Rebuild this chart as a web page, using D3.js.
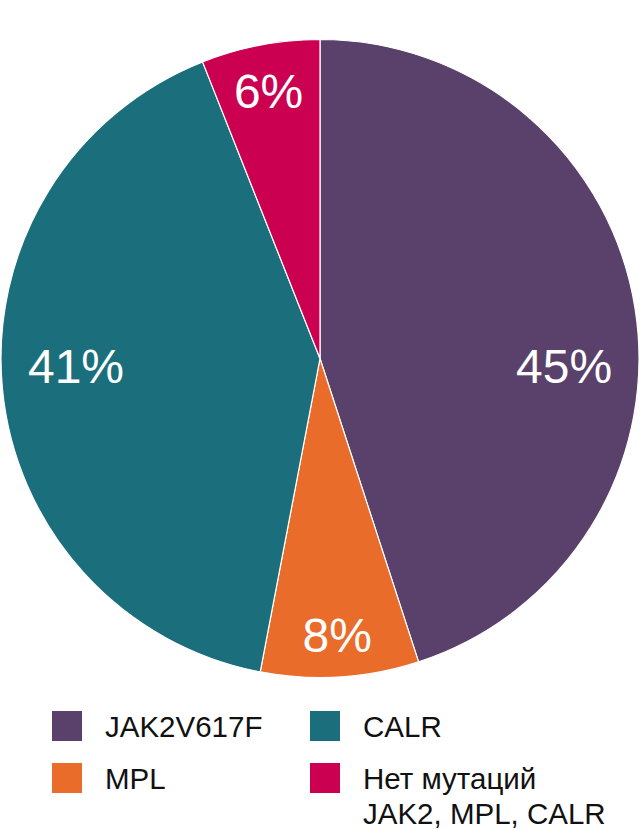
<!DOCTYPE html>
<html><head><meta charset="utf-8">
<script src="https://cdn.jsdelivr.net/npm/d3@7"></script>
<style>body{margin:0;background:#fff}svg{display:block}</style>
</head><body>
<script>
const categories = ["JAK2V617F", "MPL", "CALR", "Нет мутаций JAK2, MPL, CALR"];
const values = [45, 8, 41, 6];
const valueLabels = ["45%", "8%", "41%", "6%"];
const colors = ["#5A416B", "#E96C2B", "#1B6F7C", "#CC0050"];
const legendOrder = [0, 2, 1, 3];
const legendLines = [["JAK2V617F"], ["MPL"], ["CALR"], ["Нет мутаций", "JAK2, MPL, CALR"]];

const W = 640, H = 830;
const cx = 320, cy = 358.5, R = 319;
const svg = d3.select("body").append("svg").attr("width", W).attr("height", H);
const font = "'Liberation Sans', Arial, sans-serif";

const pie = d3.pie().value(d => d).sort(null);
const arcs = pie(values);
const arc = d3.arc().innerRadius(0).outerRadius(R);

const g = svg.append("g").attr("transform", `translate(${cx},${cy})`);
g.selectAll("path").data(arcs).enter().append("path")
  .attr("d", arc).attr("fill", (d, i) => colors[i])
  .attr("stroke", "#fff").attr("stroke-width", 1.2);

// label placement: large slices spanning a horizontal direction put label near horizontal
function labelPos(d) {
  const span = d.endAngle - d.startAngle;
  let a = (d.startAngle + d.endAngle) / 2;
  let r = R * 0.86;
  if (span > Math.PI * 0.5) {
    const cands = [Math.PI / 2, 3 * Math.PI / 2].filter(h => h > d.startAngle && h < d.endAngle);
    if (cands.length) { a = cands[0]; r = R * 0.765; }
  }
  return [r * Math.sin(a), -r * Math.cos(a), span > Math.PI * 0.5];
}
g.selectAll("text.lbl").data(arcs).enter().append("text")
  .attr("class", "lbl")
  .each(function(d, i) {
    const [x, y, big] = labelPos(d);
    d3.select(this).attr("x", x).attr("y", y + (big ? 7 : 2));
  })
  .attr("dy", "0.36em")
  .attr("text-anchor", "middle")
  .attr("fill", "#fff")
  .attr("font-family", font)
  .attr("font-size", 48)
  .text((d, i) => valueLabels[i]);

// legend
const colX = d3.scalePoint().domain([0, 1]).range([52, 310]);
const rowY = d3.scalePoint().domain([0, 1]).range([711, 763]);
const leg = svg.append("g");
legendOrder.forEach((ci, k) => {
  const col = k % 2, row = Math.floor(k / 2);
  const x = colX(col), y = rowY(row);
  leg.append("rect").attr("x", x).attr("y", y).attr("width", 30).attr("height", 30)
    .attr("fill", colors[ci]);
  const t = leg.append("text").attr("font-family", font).attr("font-size", 29.5)
    .attr("fill", "#111");
  legendLines[ci].forEach((ln, j) => {
    t.append("tspan").attr("x", x + 53).attr("y", y + 25.5 + j * 35).text(ln);
  });
});
</script>
</body></html>
